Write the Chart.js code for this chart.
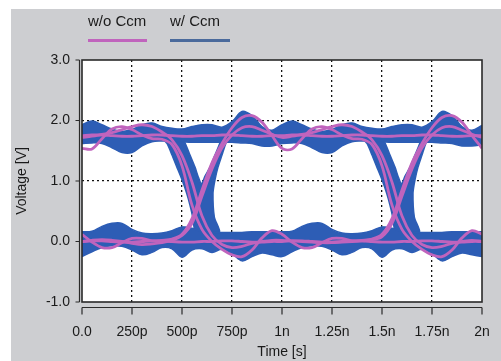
<!DOCTYPE html>
<html><head><meta charset="utf-8">
<script src="https://cdn.jsdelivr.net/npm/chart.js@4.4.1/dist/chart.umd.min.js"></script>
<style>
html,body{margin:0;padding:0;background:#fff;}
#wrap{position:relative;width:501px;height:361px;overflow:hidden;}
canvas{position:absolute;left:0;top:0;}
.lg{position:absolute;font:15px "Liberation Sans",Arial,sans-serif;color:#1a1a1a;line-height:16px;white-space:nowrap;}
.ln{position:absolute;height:2.5px;}
</style></head><body>
<div id="wrap">
<canvas id="c" width="501" height="361"></canvas>
</div>
<script>
// ---- labels ----
const seriesNames = ['w/o Ccm', 'w/ Ccm'];
const xTickLabels = ['0.0','250p','500p','750p','1n','1.25n','1.5n','1.75n','2n'];
const yTickLabels = ['-1.0','0.0','1.0','2.0','3.0'];
const xTitle = 'Time [s]';
const yTitle = 'Voltage [V]';

// ---- common time samples (ps) ----
const sampleT = [0,50,100,150,200,250,300,350,400,450,500,550,600,650,700,750,800,850,900,950,1000,
  1050,1100,1150,1200,1250,1300,1350,1400,1450,1500,1550,1600,1650,1700,1750,1800,1850,1900,1950,2000];

// ---- w/ Ccm : blue envelope of the eye (V) ----
const hiTop = [1.93,1.99,1.93,1.86,1.82,1.85,1.93,1.96,1.90,1.87,1.86,1.90,1.93,1.93,1.89,1.98,2.15,2.08,1.90,1.84,1.93,
  1.99,1.93,1.86,1.82,1.85,1.93,1.96,1.90,1.87,1.86,1.90,1.93,1.93,1.89,1.98,2.15,2.08,1.90,1.84,1.92];
const hiBot = [1.62,1.63,1.62,1.55,1.47,1.47,1.58,1.65,1.66,1.66,1.65,1.64,1.64,1.64,1.64,1.64,1.63,1.62,1.58,1.58,1.62,
  1.63,1.62,1.55,1.47,1.47,1.58,1.65,1.66,1.66,1.65,1.64,1.64,1.64,1.64,1.64,1.63,1.62,1.58,1.58,1.60];
const loTop = [0.16,0.17,0.25,0.30,0.30,0.20,0.14,0.13,0.14,0.18,0.24,0.22,0.16,0.15,0.15,0.15,0.15,0.16,0.16,0.16,0.16,
  0.17,0.25,0.30,0.30,0.20,0.14,0.13,0.14,0.18,0.24,0.22,0.16,0.15,0.15,0.15,0.15,0.16,0.16,0.16,0.16];
const loBot = [-0.25,-0.17,-0.10,-0.07,-0.08,-0.14,-0.22,-0.18,-0.10,-0.12,-0.26,-0.14,-0.12,-0.18,-0.13,-0.20,-0.32,-0.25,-0.19,-0.22,-0.25,
  -0.17,-0.10,-0.07,-0.08,-0.14,-0.22,-0.18,-0.10,-0.12,-0.26,-0.14,-0.12,-0.18,-0.13,-0.20,-0.32,-0.25,-0.19,-0.22,-0.25];

// crossing region outline (falling + rising arms), first and second UI
const crossT1 = [400,425,450,473,500,523,540,553,563,568,615,665,688,662,655,665,680,700,720,740,700,690,665,640,615,597,580,565,540,515,500,400];
const crossT2 = [1400,1425,1450,1473,1500,1523,1540,1553,1563,1568,1615,1665,1688,1662,1655,1665,1680,1700,1720,1740,1700,1690,1665,1640,1615,1597,1580,1565,1540,1515,1500,1400];
const crossV  = [1.71,1.62,1.43,1.24,1.02,0.80,0.60,0.41,0.16,0.04,0.02,0.04,0.17,0.40,0.80,1.02,1.23,1.43,1.63,1.76,1.71,1.63,1.43,1.23,1.08,0.95,1.08,1.23,1.43,1.63,1.71,1.71];

// ---- w/o Ccm : individual traces (V) ----
const woHigh = [1.75,1.76,1.76,1.75,1.74,1.74,1.75,1.76,1.76,1.75,1.74,1.74,1.75,1.75,1.76,1.76,1.75,1.74,1.74,1.75,1.75,
  1.76,1.76,1.75,1.74,1.74,1.75,1.76,1.76,1.75,1.74,1.74,1.75,1.75,1.76,1.76,1.75,1.74,1.74,1.75,1.75];
const woLow = [0.00,0.01,0.01,0.00,-0.01,-0.01,0.00,0.01,0.01,0.00,-0.01,-0.01,0.00,0.00,0.01,0.01,0.00,-0.01,-0.01,0.00,0.00,
  0.01,0.01,0.00,-0.01,-0.01,0.00,0.01,0.01,0.00,-0.01,-0.01,0.00,0.00,0.01,0.01,0.00,-0.01,-0.01,0.00,0.00];
const woFallRise = [1.54,1.53,1.70,1.86,1.90,1.85,1.76,1.70,1.69,1.60,1.25,0.60,0.20,0.00,-0.13,-0.22,-0.25,-0.14,0.06,0.18,0.12,
  -0.01,-0.10,-0.10,-0.02,0.05,0.05,0.01,0.02,0.04,0.12,0.38,0.85,1.30,1.62,1.88,2.05,2.08,1.97,1.75,1.54];
const woRiseFall = [0.12,-0.01,-0.10,-0.10,-0.02,0.05,0.05,0.01,0.02,0.04,0.12,0.38,0.85,1.30,1.62,1.88,2.05,2.08,1.97,1.75,1.54,
  1.53,1.70,1.86,1.90,1.85,1.76,1.70,1.69,1.60,1.25,0.60,0.20,0.00,-0.13,-0.22,-0.25,-0.14,0.06,0.18,0.12];
const woHighFall = [1.72,1.74,1.77,1.80,1.85,1.90,1.93,1.90,1.81,1.68,1.42,0.98,0.42,0.10,-0.05,-0.10,-0.08,-0.03,0.00,0.02,0.02,
  0.01,0.00,-0.01,-0.02,-0.02,-0.01,0.00,0.01,0.03,0.08,0.30,0.75,1.20,1.55,1.76,1.88,1.90,1.84,1.77,1.72];
const woLowRise = [0.00,0.02,0.03,0.02,0.00,-0.03,-0.05,-0.04,-0.02,0.02,0.10,0.30,0.75,1.20,1.55,1.76,1.88,1.90,1.84,1.77,1.72,
  1.74,1.77,1.80,1.85,1.90,1.93,1.90,1.81,1.68,1.42,0.98,0.42,0.10,-0.05,-0.10,-0.08,-0.03,0.00,0.02,0.00];

// ---- styles ----
const PURPLE = '#c064bd';
const BLUE = '#2d5db5';
const LEG_BLUE = '#4a6a9c';
const FONT = '"Liberation Sans", Arial, sans-serif';

const pts = (ts, vs) => ts.map((t, i) => ({x: t, y: vs[i]}));

const purpleTraces = [woHigh, woLow, woFallRise, woRiseFall, woHighFall, woLowRise];
const datasets = [];
purpleTraces.forEach(v => datasets.push({
  label: seriesNames[0], data: pts(sampleT, v), borderColor: PURPLE, borderWidth: 2.8,
  pointRadius: 0, tension: 0.35, fill: false, order: 0
}));
const bandStyle = {label: seriesNames[1], borderColor: BLUE, backgroundColor: BLUE, borderWidth: 1.5, pointRadius: 0, tension: 0.35, order: 1};
datasets.push(Object.assign({}, bandStyle, {data: pts(sampleT, hiTop), fill: '+1'}));
datasets.push(Object.assign({}, bandStyle, {data: pts(sampleT, hiBot), fill: false}));
datasets.push(Object.assign({}, bandStyle, {data: pts(sampleT, loTop), fill: '+1'}));
datasets.push(Object.assign({}, bandStyle, {data: pts(sampleT, loBot), fill: false}));
datasets.push(Object.assign({}, bandStyle, {data: pts(crossT1, crossV), fill: 'shape', tension: 0.2}));
datasets.push(Object.assign({}, bandStyle, {data: pts(crossT2, crossV), fill: 'shape', tension: 0.2}));

// legend (real text)
const wrap = document.getElementById('wrap');
const legendPos = [{left: 88, w: 59, color: PURPLE}, {left: 170, w: 60, color: LEG_BLUE}];
seriesNames.forEach((name, i) => {
  const t = document.createElement('div'); t.className = 'lg';
  t.style.left = legendPos[i].left + 'px'; t.style.top = '13px'; t.textContent = name;
  wrap.appendChild(t);
  const l = document.createElement('div'); l.className = 'ln';
  l.style.left = legendPos[i].left + 'px'; l.style.top = '39px'; l.style.width = legendPos[i].w + 'px';
  l.style.background = legendPos[i].color;
  wrap.appendChild(l);
});

const deco = {
  id: 'deco',
  beforeDraw(chart) {
    const {ctx, chartArea: a} = chart;
    ctx.save();
    ctx.fillStyle = '#ffffff'; ctx.fillRect(0, 0, chart.width, chart.height);
    ctx.fillStyle = '#cdced1'; ctx.fillRect(11, 9, chart.width - 11, chart.height - 9);
    ctx.fillStyle = '#ffffff'; ctx.fillRect(a.left, a.top, a.right - a.left, a.bottom - a.top);
    ctx.restore();
  },
  afterDraw(chart) {
    const {ctx, chartArea: a, scales: {x, y}} = chart;
    ctx.save();
    ctx.strokeStyle = '#2a2a2a'; ctx.lineWidth = 1.6;
    ctx.strokeRect(a.left, a.top, a.right - a.left, a.bottom - a.top);
    ctx.lineWidth = 1.2;
    ctx.beginPath();
    const ax = a.left - 2.5;
    ctx.moveTo(ax, y.getPixelForValue(3)); ctx.lineTo(ax, y.getPixelForValue(-1));
    y.ticks.forEach(t => { const py = y.getPixelForValue(t.value); ctx.moveTo(ax, py); ctx.lineTo(ax - 4, py); });
    const ay = a.bottom + 5.5;
    ctx.moveTo(x.getPixelForValue(0), ay); ctx.lineTo(x.getPixelForValue(2000), ay);
    x.ticks.forEach(t => { const px = x.getPixelForValue(t.value); ctx.moveTo(px, ay); ctx.lineTo(px, ay + 7); });
    ctx.stroke();
    ctx.restore();
  }
};

new Chart(document.getElementById('c'), {
  type: 'line',
  data: {datasets},
  plugins: [deco],
  options: {
    responsive: false, animation: false, devicePixelRatio: 1, events: [],
    layout: {padding: {top: 60, right: 19, bottom: 0, left: 0}},
    plugins: {legend: {display: false}, tooltip: {enabled: false}},
    scales: {
      x: {
        type: 'linear', min: 0, max: 2000,
        afterFit: s => { s.height = 59; s.paddingLeft = 0; s.paddingRight = 0; },
        ticks: {stepSize: 250, padding: 21.5, color: '#1a1a1a', font: {family: FONT, size: 14},
          maxRotation: 0, autoSkip: false, callback: (v, i) => xTickLabels[i]},
        grid: {drawTicks: false, lineWidth: 1.3,
          color: c => (c.tick && (c.tick.value === 0 || c.tick.value === 2000)) ? 'rgba(0,0,0,0)' : '#111'},
        border: {display: false, dash: [2, 3]},
        title: {display: true, text: xTitle, color: '#1a1a1a', font: {family: FONT, size: 14}, padding: {top: 0, bottom: 0}}
      },
      y: {
        min: -1, max: 3,
        afterFit: s => { s.width = 82; s.paddingTop = 0; s.paddingBottom = 0; },
        ticks: {stepSize: 1, padding: 12, color: '#1a1a1a', font: {family: FONT, size: 14},
          callback: (v, i) => yTickLabels[i]},
        grid: {drawTicks: false, lineWidth: 1.3,
          color: c => (c.tick && (c.tick.value === -1 || c.tick.value === 3)) ? 'rgba(0,0,0,0)' : '#111'},
        border: {display: false, dash: [2, 3]},
        title: {display: true, text: yTitle, color: '#1a1a1a', font: {family: FONT, size: 14}, padding: {top: 13.5, bottom: 0}}
      }
    }
  }
});
</script>
</body></html>
